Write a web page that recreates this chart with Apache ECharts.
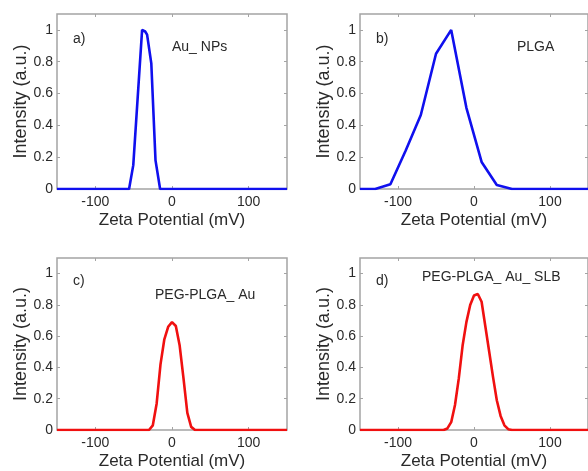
<!DOCTYPE html>
<html>
<head>
<meta charset="utf-8">
<title>Zeta potential distributions</title>
<script src="https://cdn.jsdelivr.net/npm/echarts@6/dist/echarts.min.js"></script>
<style>
  html, body { margin: 0; padding: 0; background: #ffffff; }
  #chart { width: 588px; height: 471px; }
</style>
</head>
<body>
<div id="chart"></div>
<script>
// Zeta potential (mV) and normalised intensity for each sample
const zetaAuNPs = [-150, -56, -50.5, -39, -35, -32.5, -27, -21.5, -15.5, 150];
const intensityAuNPs = [0, 0, 0.15, 1.0, 0.99, 0.97, 0.79, 0.18, 0, 0];

const zetaPLGA = [-150, -130, -110, -90, -70, -50, -30, -10, 10, 30, 50, 150];
const intensityPLGA = [0, 0, 0.03, 0.24, 0.465, 0.85, 1.0, 0.51, 0.17, 0.025, 0, 0];

const zetaPegPlgaAu = [-150, -30, -25, -20, -15, -10, -5, 0, 5, 10, 15, 20, 25, 30, 150];
const intensityPegPlgaAu = [0, 0, 0.03, 0.17, 0.42, 0.58, 0.66, 0.69, 0.665, 0.54, 0.33, 0.11, 0.02, 0, 0];

const zetaPegPlgaAuSlb = [-150, -40, -35, -30, -25, -20, -15, -10, -5, 0, 5, 10, 15, 20, 25, 30, 35, 40, 45, 50, 150];
const intensityPegPlgaAuSlb = [0, 0, 0.01, 0.05, 0.16, 0.33, 0.54, 0.69, 0.8, 0.86, 0.87, 0.82, 0.66, 0.5, 0.34, 0.19, 0.09, 0.03, 0.005, 0, 0];

// Tick positions and panel captions
const xTicks = [-100, 0, 100];
const yTicks = [0, 0.2, 0.4, 0.6, 0.8, 1];
const panelLetters = ['a)', 'b)', 'c)', 'd)'];
const sampleNames = ['Au_ NPs', 'PLGA', 'PEG-PLGA_ Au', 'PEG-PLGA_ Au_ SLB'];
const xAxisTitle = 'Zeta Potential (mV)';
const yAxisTitle = 'Intensity (a.u.)';

const panels = [
  { x: zetaAuNPs, y: intensityAuNPs, color: '#1010ee' },
  { x: zetaPLGA, y: intensityPLGA, color: '#1010ee' },
  { x: zetaPegPlgaAu, y: intensityPegPlgaAu, color: '#f01010' },
  { x: zetaPegPlgaAuSlb, y: intensityPegPlgaAuSlb, color: '#f01010' }
];

// Plot-box placement for the 2x2 layout
const boxes = [
  { left: 57, top: 14, width: 230, height: 175 },
  { left: 360, top: 14, width: 230, height: 175 },
  { left: 57, top: 258, width: 230, height: 174 },
  { left: 360, top: 258, width: 230, height: 174 }
];
// Caption placement: [letter x, letter y, name x, name y]
const captionPos = [
  [73, 40, 172, 48],
  [376, 40, 517, 48],
  [73, 282, 155, 296],
  [376, 282, 422, 278]
];

const FONT = 'Liberation Sans, Arial, Helvetica, sans-serif';
const TEXT = '#2a2a2a';
const BOX = '#a4a4a4';

const grid = [], xAxis = [], yAxis = [], series = [], graphic = [];

panels.forEach((p, i) => {
  grid.push(Object.assign({ show: true, borderColor: BOX, borderWidth: 1.5, backgroundColor: '#fff' }, boxes[i]));

  const tickStyle = { show: true, inside: true, length: 3, lineStyle: { color: BOX, width: 1 } };
  const hiddenLine = { show: false, onZero: false };

  // bottom axis with labels and title
  xAxis.push({
    type: 'value', gridIndex: i, position: 'bottom', min: -150, max: 150,
    axisLine: hiddenLine, splitLine: { show: false },
    axisTick: Object.assign({ customValues: xTicks }, tickStyle),
    axisLabel: { customValues: xTicks, color: TEXT, fontSize: 14, fontFamily: FONT, margin: 6 },
    name: xAxisTitle, nameLocation: 'middle', nameGap: 23,
    nameTextStyle: { color: TEXT, fontSize: 17, fontFamily: FONT }
  });
  // mirrored top ticks
  xAxis.push({
    type: 'value', gridIndex: i, position: 'top', min: -150, max: 150,
    axisLine: hiddenLine, splitLine: { show: false },
    axisTick: Object.assign({ customValues: xTicks }, tickStyle),
    axisLabel: { show: false }
  });
  // left axis with labels and title
  yAxis.push({
    type: 'value', gridIndex: i, position: 'left', min: 0, max: 1.1,
    axisLine: hiddenLine, splitLine: { show: false },
    axisTick: Object.assign({ customValues: yTicks }, tickStyle),
    axisLabel: { customValues: yTicks, color: TEXT, fontSize: 14, fontFamily: FONT, margin: 4 },
    name: yAxisTitle, nameLocation: 'middle', nameGap: 24, nameRotate: 90,
    nameTextStyle: { color: TEXT, fontSize: 18, fontFamily: FONT }
  });
  // mirrored right ticks
  yAxis.push({
    type: 'value', gridIndex: i, position: 'right', min: 0, max: 1.1,
    axisLine: hiddenLine, splitLine: { show: false },
    axisTick: Object.assign({ customValues: yTicks }, tickStyle),
    axisLabel: { show: false }
  });

  series.push({
    type: 'line', xAxisIndex: 2 * i, yAxisIndex: 2 * i,
    data: p.x.map((v, k) => [v, p.y[k]]),
    showSymbol: false, symbol: 'none', smooth: false,
    lineStyle: { color: p.color, width: 2.6 },
    z: 3
  });

  const [lx, ly, nx, ny] = captionPos[i];
  graphic.push({
    type: 'text', left: lx, top: ly - 8, z: 10,
    style: { text: panelLetters[i], fill: TEXT, font: '14px ' + FONT }
  });
  graphic.push({
    type: 'text', left: nx, top: ny - 8, z: 10,
    style: { text: sampleNames[i], fill: TEXT, font: '14px ' + FONT }
  });
});

const chart = echarts.init(document.getElementById('chart'), null, { renderer: 'canvas' });
chart.setOption({
  animation: false,
  backgroundColor: '#ffffff',
  grid, xAxis, yAxis, series, graphic
});
</script>
</body>
</html>
